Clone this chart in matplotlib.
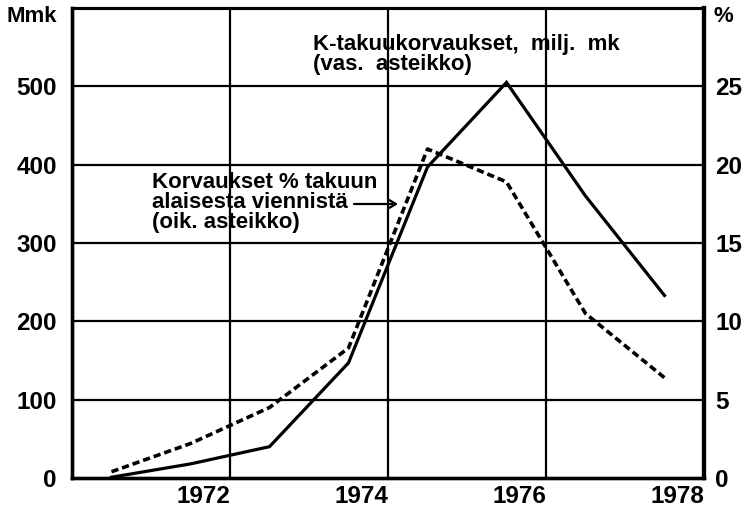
import matplotlib
matplotlib.use("Agg")
import matplotlib.pyplot as plt
import numpy as np

# ---- data ----
years = [1971, 1972, 1973, 1974, 1975, 1976, 1977, 1978]
compensation_mmk = [1, 18, 40, 147, 397, 505, 360, 233]          # left axis
compensation_pct = [0.4, 2.2, 4.5, 8.3, 21.0, 18.9, 10.5, 6.4]    # right axis
x_tick_years = [1972, 1974, 1976, 1978]
left_ticks = [0, 100, 200, 300, 400, 500]
right_ticks = [0, 5, 10, 15, 20, 25]

FONT = "Liberation Sans"
W, H = 742, 509

fig = plt.figure(figsize=(W / 100, H / 100), dpi=100)
ax = fig.add_axes([72 / W, 1 - 478 / H, (704 - 72) / W, (478 - 8) / H])
ax2 = ax.twinx()

# plot positions: mid-year of each period
xpos = np.array(years) - 0.5

ax.set_xlim(1970, 1978)
ax.set_ylim(0, 600)
ax2.set_ylim(0, 30)

# grid
for v in left_ticks[1:]:
    ax.axhline(v, color="black", lw=1.6, zorder=1)
for yv in x_tick_years[:-1]:
    ax.axvline(yv, color="black", lw=1.6, zorder=1)

ax.plot(xpos, compensation_mmk, color="black", lw=2.3, solid_joinstyle="miter", zorder=3)
ax2.plot(xpos, compensation_pct, color="black", lw=2.6, linestyle=(0, (2.0, 1.1)), zorder=3)

# spines
for ax_ in (ax, ax2):
    ax_.spines["left"].set_linewidth(2.4)
    ax_.spines["bottom"].set_linewidth(2.4)
    ax_.spines["top"].set_linewidth(2.2)
    ax_.spines["right"].set_linewidth(3.0)

TICK_FS = 17.5
ax.set_yticks(left_ticks)
ax.set_yticklabels([str(t) for t in left_ticks], fontsize=TICK_FS, fontfamily=FONT, fontweight="bold")
ax2.set_yticks(right_ticks)
ax2.set_yticklabels([str(t) for t in right_ticks], fontsize=TICK_FS, fontfamily=FONT, fontweight="bold")
ax.set_xticks(x_tick_years)
ax.set_xticklabels([str(t) for t in x_tick_years], fontsize=TICK_FS, fontfamily=FONT,
                   fontweight="bold", ha="right")
ax.tick_params(axis="y", length=0, pad=11)
ax2.tick_params(axis="y", length=0, pad=8)
ax.tick_params(axis="x", length=0, pad=5)

# axis unit labels
fig.text(57 / W, 1 - 17 / H, "Mmk", ha="right", va="center", fontsize=16, fontfamily=FONT, fontweight="bold")
fig.text(714 / W, 1 - 17 / H, "%", ha="left", va="center", fontsize=16, fontfamily=FONT, fontweight="bold")

# annotations
ann_kw = dict(fontsize=16, fontfamily=FONT, fontweight="bold", ha="left", va="baseline")
fig.text(313 / W, 1 - 50 / H, "K-takuukorvaukset,  milj.  mk", **ann_kw)
fig.text(313 / W, 1 - 70 / H, "(vas.  asteikko)", **ann_kw)
fig.text(152 / W, 1 - 188 / H, "Korvaukset % takuun", **ann_kw)
fig.text(152 / W, 1 - 208 / H, "alaisesta viennistä", **ann_kw)
fig.text(152 / W, 1 - 228 / H, "(oik. asteikko)", **ann_kw)

fig.add_artist(matplotlib.patches.FancyArrowPatch(
    posA=(354, H - 204), posB=(398, H - 204), transform=None,
    arrowstyle="->,head_length=5,head_width=3", color="black", lw=1.6,
    shrinkA=0, shrinkB=0))

fig.savefig("out.png", dpi=100)
